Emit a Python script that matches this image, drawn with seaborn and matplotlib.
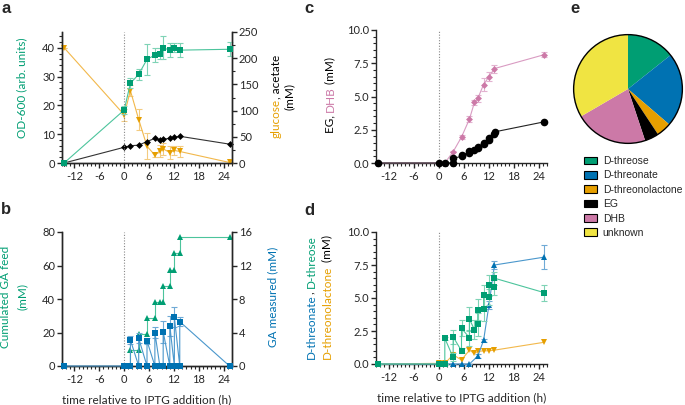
import numpy as np
import pandas as pd
import matplotlib
matplotlib.use('Agg')
import matplotlib.pyplot as plt
import seaborn as sns
from matplotlib.ticker import MultipleLocator, FormatStrFormatter
from matplotlib.patches import Circle

# renkler (Okabe-Ito)
GREEN = '#009E73'
BLUE = '#0072B2'
ORANGE = '#E69F00'
PINK = '#CC79A7'
YELLOW = '#F0E442'

# --- panel a: OD-600, glucose, acetate ---
t_a = [-14.5, 0, 1.5, 3.5, 5.5, 7.4, 8.6, 9.4, 11, 12.1, 13.4, 25.4]
od600 = [0, 18.4, 27.7, 30.8, 36.0, 37.5, 38.0, 40.0, 39.2, 40.1, 39.2, 39.5]
od600_err = [0.3, 1.5, 1.8, 1.8, 5.5, 2.5, 2.0, 4.0, 2.5, 1.5, 2.5, 2.5]
glucose = [220, 92, 138, 83, 32, 15, 23, 27, 20, 24, 22, 1]
glucose_err = [0, 12, 10, 20, 25, 4, 12, 12, 12, 8, 10, 1]
acetate = [0, 30, 33, 34, 41, 47, 44, 45.5, 47, 49, 51, 36]

# --- panel b: GA feed / GA measured ---
feed_t = [-14.5, 0, 1.5, 1.5, 3.5, 3.5, 5.5, 5.5, 7.4, 7.4, 8.6, 9.4, 9.4,
          11, 11, 12.1, 12.1, 13.4, 13.4, 25.4]
feed = [0, 0, 0, 9.6, 9.6, 19.2, 19.2, 28.8, 28.8, 38.4, 38.4, 38.4, 48,
        48, 57.6, 57.6, 67.2, 67.2, 76.8, 76.8]
ga_t = [-14.5, 0, 0.7, 1.5, 1.5, 3.5, 3.5, 5.5, 5.5, 7.4, 7.4, 8.6, 9.4, 9.4,
        11, 11, 12.1, 12.1, 13.4, 13.4, 25.4]
ga = [0, 0, 0, 0, 3.1, 0, 3.3, 0, 3.0, 0, 4.0, 0, 0, 4.1,
      0, 4.8, 0, 5.8, 0, 5.3, 0]
ga_err = [0, 0, 0, 0, 0.5, 0, 0.6, 0, 0.4, 0, 0.7, 0, 0, 1.3,
          0, 1.2, 0, 1.2, 0, 0.5, 0]

# --- panel c: EG, DHB ---
eg_t = [-14.5, 0, 1.5, 3.5, 3.5, 5.5, 5.5, 7.4, 7.4, 8.6, 9.4, 9.4,
        10.8, 10.8, 12.1, 12.1, 13.4, 13.6, 25.4]
eg = [0, 0, 0, 0.02, 0.35, 0.5, 0.62, 0.78, 0.88, 1.0, 1.1, 1.2,
      1.4, 1.5, 1.75, 1.85, 2.2, 2.35, 3.1]
dhb_t = [-14.5, 0, 1.5, 3.5, 5.5, 7.4, 8.6, 9.4, 10.8, 12.1, 13.4, 25.4]
dhb = [0, 0, 0, 0.85, 1.95, 3.3, 4.55, 4.85, 5.9, 6.5, 7.1, 8.15]
dhb_err = [0, 0, 0, 0.05, 0.15, 0.2, 0.2, 0.25, 0.5, 0.35, 0.3, 0.2]

# --- panel d: D-threose, D-threonate, D-threonolactone ---
threose_t = [-14.5, 0, 1.5, 1.5, 3.5, 3.5, 5.5, 5.5, 7.4, 7.4, 8.6, 9.4, 9.4,
             10.8, 10.8, 12.1, 12.1, 13.4, 13.4, 25.4]
threose = [0, 0, 0, 1.95, 0.5, 2.05, 1.0, 2.7, 2.0, 3.4, 2.6, 3.0, 4.1,
           4.15, 5.2, 5.1, 5.95, 5.8, 6.5, 5.4]
threose_err = [0, 0, 0, 0.1, 0.3, 0.5, 0.2, 0.6, 0.6, 0.9, 0.7, 0.9, 0.8,
               0.9, 0.8, 0.6, 0.8, 0.6, 0.5, 0.6]
threonate_t = [-14.5, 0, 1.5, 3.5, 5.5, 7.4, 9.4, 10.8, 12.1, 13.4, 25.4]
threonate = [0, 0, 0, 0, 0, 0, 0.6, 1.8, 4.5, 7.5, 8.1]
threonate_err = [0, 0, 0, 0, 0, 0, 0.15, 0.1, 0.3, 0.3, 0.9]
lactone_t = [-14.5, 0, 1.5, 3.5, 5.5, 7.4, 8.6, 9.4, 10.8, 12.1, 13.4, 25.4]
lactone = [0, 0.05, 0.05, 0.7, 0.3, 1.05, 0.8, 0.95, 1.0, 1.0, 1.05, 1.65]

# --- panel e: pie ---
pie_labels = ['D-threose', 'D-threonate', 'D-threonolactone', 'EG', 'DHB', 'unknown']
pie_values = [14.3, 22.0, 4.4, 4.2, 21.7, 33.4]
pie_colors = [GREEN, BLUE, ORANGE, 'black', PINK, YELLOW]

x_ticks = [-12, -6, 0, 6, 12, 18, 24]

sns.set_style('ticks')
plt.rcParams['font.family'] = ['Lato', 'DejaVu Sans']
plt.rcParams['axes.unicode_minus'] = False
plt.rcParams['axes.linewidth'] = 1.0
plt.rcParams['xtick.major.width'] = 1.0
plt.rcParams['ytick.major.width'] = 1.0
plt.rcParams['xtick.minor.width'] = 0.8
plt.rcParams['ytick.minor.width'] = 0.8
plt.rcParams['xtick.major.size'] = 3.5
plt.rcParams['ytick.major.size'] = 3.5
plt.rcParams['xtick.minor.size'] = 2
plt.rcParams['ytick.minor.size'] = 2
plt.rcParams['xtick.labelsize'] = 8
plt.rcParams['ytick.labelsize'] = 8
plt.rcParams['xtick.major.pad'] = 2
plt.rcParams['ytick.major.pad'] = 1.5

W, H = 685, 405
fig = plt.figure(figsize=(W / 100, H / 100), dpi=100)


def px_axes(x0, y0, x1, y1):
    return fig.add_axes([x0 / W, 1 - y1 / H, (x1 - x0) / W, (y1 - y0) / H])


def style_time_axis(ax):
    ax.set_xlim(-15, 26)
    ax.set_xticks(x_ticks)
    ax.xaxis.set_minor_locator(MultipleLocator(1))
    ax.spines['top'].set_visible(False)
    ax.axvline(0, color='#888888', ls=(0, (1, 1.5)), lw=0.8, zorder=0)


def series(ax, x, y, color, marker, ms, err=None, lcolor=None, ecolor=None, lw=0.8, z=3):
    if err is not None:
        ax.errorbar(x, y, yerr=err, fmt='none', ecolor=ecolor or color,
                    elinewidth=0.8, capsize=2, capthick=0.8, zorder=z - 1, clip_on=False)
    sns.lineplot(x=x, y=y, ax=ax, sort=False, estimator=None, color=lcolor or color,
                 lw=lw, marker=marker, markersize=ms, markerfacecolor=color,
                 markeredgecolor=color, markeredgewidth=0, clip_on=False, zorder=z)


def vlabel(x, y, parts, size=8.5):
    # mehrfarbiger, gedrehter Text; von unten nach oben gestapelt, um (x, y) zentriert
    first = fig.text(x / W, 1 - y / H, parts[0][0], color=parts[0][1], rotation=90,
                     ha='center', va='bottom', fontsize=size)
    texts = [first]
    for txt, col in parts[1:]:
        t = fig.axes[0].annotate(txt, xy=(0.5, 1), xycoords=texts[-1], ha='center',
                                 va='bottom', rotation=90, color=col, fontsize=size,
                                 annotation_clip=False)
        texts.append(t)
    fig.canvas.draw()
    bot = texts[0].get_window_extent().y0
    top = texts[-1].get_window_extent().y1
    first.set_position((x / W, 1 - (y + (top - bot) / 2) / H))


# ---------- panel a ----------
ax_a = px_axes(62, 32, 232, 163)
ax_a2 = ax_a.twinx()
style_time_axis(ax_a)
ax_a2.spines['top'].set_visible(False)
ax_a.set_ylim(0, 45.5)
ax_a.set_yticks([0, 10, 20, 30, 40])
ax_a.yaxis.set_minor_locator(MultipleLocator(2))
ax_a2.set_ylim(0, 250)
ax_a2.set_yticks([0, 50, 100, 150, 200, 250])
ax_a2.yaxis.set_minor_locator(MultipleLocator(25))
series(ax_a2, t_a, glucose, ORANGE, 'v', 5, err=glucose_err, lcolor='#F2B84B', ecolor='#F3CB80')
series(ax_a2, t_a, acetate, 'black', 'D', 3.5, lcolor='#333333')
ax_a.set_zorder(ax_a2.get_zorder() + 1)
ax_a.patch.set_visible(False)
series(ax_a, t_a, od600, GREEN, 's', 5, err=od600_err, lcolor='#4CC49C', ecolor='#7FD3B6')
ax_a.set_xlabel('')
ax_a.set_ylabel('')
ax_a2.set_ylabel('')

# ---------- panel b ----------
ax_b = px_axes(62, 232, 232, 366)
ax_b2 = ax_b.twinx()
style_time_axis(ax_b)
ax_b2.spines['top'].set_visible(False)
ax_b.set_ylim(0, 80)
ax_b.set_yticks([0, 20, 40, 60, 80])
ax_b2.set_ylim(0, 16)
ax_b2.set_yticks([0, 4, 8, 12, 16])
series(ax_b, feed_t, feed, GREEN, '^', 4.5, lcolor='#4CC49C')
ax_b2.set_zorder(ax_b.get_zorder() + 1)
ax_b2.patch.set_visible(False)
series(ax_b2, ga_t, ga, BLUE, 's', 5, err=ga_err, lcolor='#4A97CC', ecolor='#6FAAD6')
ax_b.set_ylabel('')
ax_b2.set_ylabel('')
ax_b.set_xlabel('time relative to IPTG addition (h)', fontsize=8.5, labelpad=7)

# ---------- panel c ----------
ax_c = px_axes(376, 30, 547, 163)
style_time_axis(ax_c)
ax_c.spines['right'].set_visible(False)
ax_c.set_ylim(0, 10)
ax_c.set_yticks([0, 2.5, 5, 7.5, 10])
ax_c.yaxis.set_major_formatter(FormatStrFormatter('%.1f'))
ax_c.yaxis.set_minor_locator(MultipleLocator(0.5))
series(ax_c, dhb_t, dhb, PINK, 'D', 3.5, err=dhb_err, lcolor='#D99BC2', ecolor='#E2B2D0')
series(ax_c, eg_t, eg, 'black', 'o', 5.5, lcolor='#222222', z=4)
ax_c.set_ylabel('')

# ---------- panel d ----------
ax_d = px_axes(376, 232, 547, 364)
style_time_axis(ax_d)
ax_d.spines['right'].set_visible(False)
ax_d.set_ylim(0, 10)
ax_d.set_yticks([0, 2.5, 5, 7.5, 10])
ax_d.yaxis.set_major_formatter(FormatStrFormatter('%.1f'))
ax_d.yaxis.set_minor_locator(MultipleLocator(0.5))
series(ax_d, lactone_t, lactone, ORANGE, 'v', 4.5, lcolor='#F2B84B', z=3)
series(ax_d, threonate_t, threonate, BLUE, '^', 4.5, err=threonate_err,
       lcolor='#4A97CC', ecolor='#6FAAD6', z=4)
series(ax_d, threose_t, threose, GREEN, 's', 5, err=threose_err,
       lcolor='#4CC49C', ecolor='#7FD3B6', z=5)
ax_d.set_ylabel('')
ax_d.set_xlabel('time relative to IPTG addition (h)', fontsize=8.5, labelpad=7)

# ---------- panel e ----------
ax_e = px_axes(628 - 56, 89 - 56, 628 + 56, 89 + 56)
wedges, _ = ax_e.pie(pie_values, colors=pie_colors, startangle=90, counterclock=False,
                     wedgeprops=dict(linewidth=0))
ax_e.add_patch(Circle((0, 0), 1, fill=False, edgecolor='black', lw=1.0))
ax_e.set_xlim(-1.03, 1.03)
ax_e.set_ylim(-1.03, 1.03)
ax_e.set_aspect('equal')
ax_e.axis('off')
for w in wedges:
    w.set_edgecolor('none')
handles = [plt.Rectangle((0, 0), 1, 1, facecolor=c, edgecolor='black', lw=0.8)
           for c in pie_colors]
fig.legend(handles, pie_labels, loc='upper left', bbox_to_anchor=(584 / W, 1 - 156 / H),
           frameon=False, prop={'family': 'Liberation Sans', 'size': 7.5},
           handlelength=1.2, handleheight=0.75, handletextpad=0.6, labelspacing=0.42,
           borderaxespad=0, borderpad=0)

# ---------- y labels ----------
vlabel(22, 88, [('OD-600 (arb. units)', GREEN)])
vlabel(276, 96, [('glucose', ORANGE), (', acetate', 'black')])
vlabel(289, 96, [('(mM)', 'black')])
vlabel(6, 297, [('Cumulated GA feed', GREEN)])
vlabel(22, 297, [('(mM)', GREEN)])
vlabel(273, 297, [('GA measured (mM)', BLUE)])
vlabel(330, 95, [('EG, ', 'black'), ('DHB', PINK), (' (mM)', 'black')])
vlabel(311, 297, [('D-threonate', BLUE), (', ', 'black'), ('D-threose', GREEN)])
vlabel(327, 297, [('D-threonolactone', ORANGE), (' (mM)', 'black')])

# ---------- panel letters ----------
for lx, ly, s in [(1, 13, 'a'), (1, 214, 'b'), (304, 13, 'c'), (304, 215, 'd'), (570, 13, 'e')]:
    fig.text(lx / W, 1 - ly / H, s, fontsize=12, fontweight='bold',
             family='Liberation Sans', va='baseline')

fig.savefig('out.png', dpi=100)
